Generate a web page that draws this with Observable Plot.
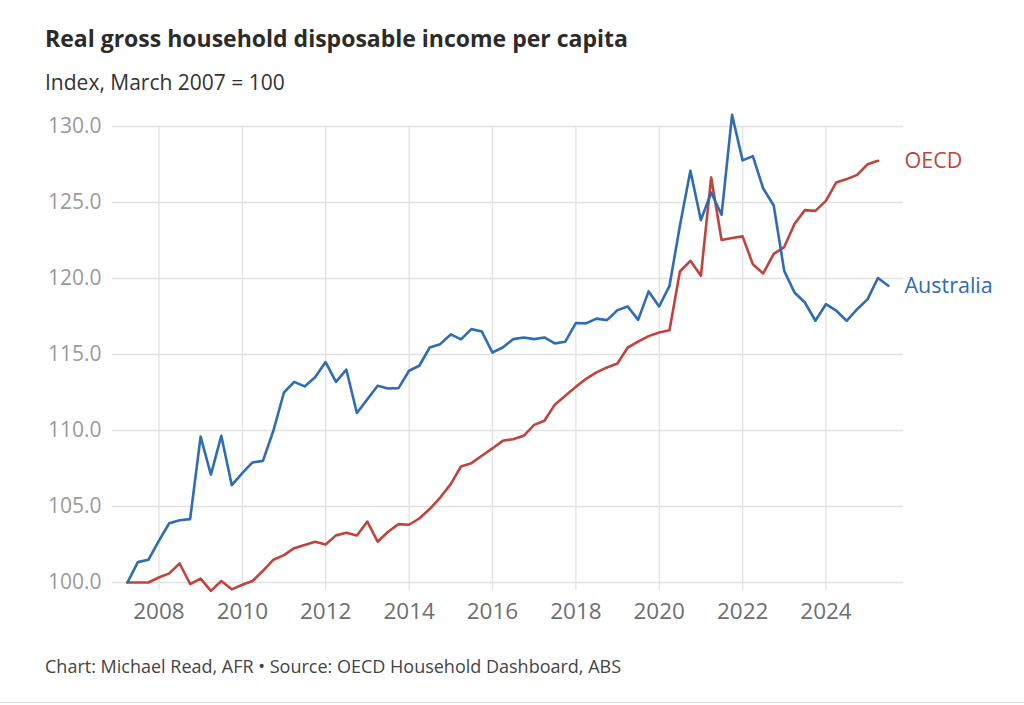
<!DOCTYPE html>
<html>
<head>
<meta charset="utf-8">
<script src="https://cdn.jsdelivr.net/npm/d3@7"></script>
<script src="https://cdn.jsdelivr.net/npm/@observablehq/plot@0.6"></script>
<style>
  html, body { margin: 0; padding: 0; background: #fff; }
  body { width: 1024px; height: 705px; position: relative; overflow: hidden; font-family: "Open Sans", Lato, sans-serif; }
  .t { position: absolute; left: 45px; line-height: 1; white-space: nowrap; }
  #title { top: 27px; font-size: 23px; font-weight: 700; color: #2b2b2b; }
  #subtitle { top: 72px; font-size: 21px; color: #333; }
  #chart { position: absolute; left: 0; top: 100px; }
  #caption { top: 657px; font-size: 18px; color: #444; }
  #rule { position: absolute; left: 0; right: 0; top: 702px; height: 0; border-top: 1px solid #dddddd; }
</style>
</head>
<body>
<div id="title" class="t">Real gross household disposable income per capita</div>
<div id="subtitle" class="t">Index, March 2007 = 100</div>
<div id="chart"></div>
<div id="caption" class="t">Chart: Michael Read, AFR • Source: OECD Household Dashboard, ABS</div>
<div id="rule"></div>
<script>
// Quarterly series, first quarter = March 2007 (index = 100)
const firstQuarterYear = 2007;
const seriesNames = ["Australia", "OECD"];
const australia = [
  100.0, 101.34, 101.49, 102.74, 103.9, 104.1, 104.17, 109.6, 107.1, 109.65,
  106.4, 107.2, 107.9, 108.0, 110.0, 112.5, 113.2, 112.9, 113.5, 114.5,
  113.2, 114.0, 111.15, 112.06, 112.94, 112.76, 112.79, 113.93, 114.26, 115.46,
  115.68, 116.32, 115.99, 116.67, 116.51, 115.13, 115.46, 116.01, 116.12, 116.01,
  116.12, 115.73, 115.84, 117.07, 117.05, 117.36, 117.26, 117.92, 118.16, 117.28,
  119.15, 118.16, 119.52, 123.47, 127.09, 123.84, 125.66, 124.19, 130.77, 127.77,
  128.05, 125.92, 124.8, 120.5, 119.08, 118.42, 117.22, 118.31, 117.88, 117.22,
  117.98, 118.64, 120.03, 119.52
];
const oecd = [
  100.0, 100.0, 100.0, 100.33, 100.6, 101.25, 99.9, 100.25, 99.45, 100.1,
  99.55, 99.85, 100.1, 100.77, 101.5, 101.8, 102.26, 102.46, 102.68, 102.5,
  103.1, 103.28, 103.09, 104.01, 102.68, 103.34, 103.84, 103.8, 104.21, 104.83,
  105.59, 106.47, 107.63, 107.85, 108.34, 108.82, 109.32, 109.43, 109.65, 110.37,
  110.64, 111.7, 112.28, 112.87, 113.4, 113.82, 114.15, 114.41, 115.46, 115.84,
  116.21, 116.45, 116.6, 120.46, 121.16, 120.18, 126.65, 122.53, 122.66, 122.77,
  120.94, 120.33, 121.62, 122.07, 123.58, 124.5, 124.45, 125.11, 126.32, 126.54,
  126.82, 127.52, 127.74
];
const xTickYears = [2008, 2010, 2012, 2014, 2016, 2018, 2020, 2022, 2024];
const yTicks = [100, 105, 110, 115, 120, 125, 130];

const colors = { Australia: "#2e6cb4", OECD: "#c0443c" };

// quarter-end date for quarter index i
const quarterDate = i => d3.utcDay.offset(d3.utcMonth.offset(new Date(Date.UTC(firstQuarterYear, 3, 1)), 3 * i), -1);
const toRows = (name, values) => values.map((v, i) => ({ series: name, date: quarterDate(i), value: v }));
const rows = { Australia: toRows("Australia", australia), OECD: toRows("OECD", oecd) };
const lastPoints = seriesNames.map(n => rows[n][rows[n].length - 1]);
const xTicks = xTickYears.map(y => new Date(Date.UTC(y, 0, 1)));

const chart = Plot.plot({
  width: 1024,
  height: 540,
  marginTop: 26,
  marginBottom: 58,
  marginLeft: 112,
  marginRight: 121,
  style: { fontFamily: "'Open Sans', Lato, sans-serif", background: "transparent", overflow: "visible" },
  x: { type: "utc", domain: [new Date(Date.UTC(2006, 10, 20)), new Date(Date.UTC(2025, 10, 10))] },
  y: { domain: [100, 130] },
  marks: [
    Plot.gridY({ ticks: yTicks, stroke: "#e2e2e2", strokeOpacity: 1, strokeWidth: 1.3 }),
    Plot.gridX({ ticks: xTicks, stroke: "#e2e2e2", strokeOpacity: 1, strokeWidth: 1.3 }),
    Plot.axisY({ ticks: yTicks, tickSize: 0, tickPadding: 11, tickFormat: d3.format(".1f"), fill: "#9a9a9a", fontSize: 21, label: null }),
    Plot.axisX({ ticks: xTicks, tickSize: 8, tickPadding: 13, tickFormat: d3.utcFormat("%Y"), stroke: "#e2e2e2", strokeWidth: 1.3, fill: "#6e6e6e", fontSize: 22.5, label: null }),
    Plot.line(rows.OECD, { x: "date", y: "value", stroke: colors.OECD, strokeWidth: 2.6, strokeLinejoin: "round" }),
    Plot.line(rows.Australia, { x: "date", y: "value", stroke: colors.Australia, strokeWidth: 2.6, strokeLinejoin: "round" }),
    Plot.text(lastPoints, { y: "value", text: "series", frameAnchor: "right", textAnchor: "start", dx: 1, fill: d => colors[d.series], fontSize: 21.5 })
  ]
});
document.getElementById("chart").appendChild(chart);
</script>
</body>
</html>
